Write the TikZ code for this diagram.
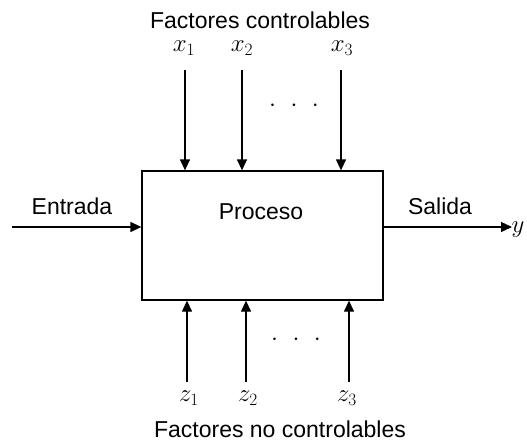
\documentclass[tikz,border=0pt]{standalone}
\usepackage{fontspec}
\setmainfont{Liberation Sans}
\usetikzlibrary{arrows.meta}
\begin{document}
\begin{tikzpicture}[x=1pt,y=-1pt,
  font=\fontsize{23}{27}\selectfont,
  line width=1.3pt,
  arr/.style={-{Triangle[length=11pt,width=10pt]}},
  mathlbl/.style={inner sep=0pt, font=\fontsize{27}{31}\selectfont},
  dots/.style={inner sep=0pt, font=\fontsize{27}{31}\selectfont}]
\useasboundingbox (0,0) rectangle (527,442);
\node[draw, minimum width=241pt, minimum height=129pt, inner sep=0pt] (proc) at (262.5,235.5) {};
\node (proctext) at (261,212) {Proceso};
% top
\node (ttitle) at (260,20) {Factores controlables};
\node[mathlbl] (x1) at (184,48) {$x_1$};
\node[mathlbl] (x2) at (242,48) {$x_2$};
\node[mathlbl] (x3) at (342,48) {$x_3$};
\coordinate (t1) at (185,70);
\coordinate (t2) at (242,70);
\coordinate (t3) at (341,70);
\draw[arr] (t1) -- (t1 |- proc.north);
\draw[arr] (t2) -- (t2 |- proc.north);
\draw[arr] (t3) -- (t3 |- proc.north);
\node[dots] (tdots) at (294,106) {$\cdot\hspace{9pt}\cdot\hspace{9pt}\cdot$};
% bottom
\coordinate (b1) at (187,382);
\coordinate (b2) at (246,382);
\coordinate (b3) at (349,382);
\draw[arr] (b1) -- (b1 |- proc.south);
\draw[arr] (b2) -- (b2 |- proc.south);
\draw[arr] (b3) -- (b3 |- proc.south);
\node[mathlbl] (z1) at (189,398) {$z_1$};
\node[mathlbl] (z2) at (248,398) {$z_2$};
\node[mathlbl] (z3) at (347,398) {$z_3$};
\node[dots] (bdots) at (296,340) {$\cdot\hspace{9pt}\cdot\hspace{9pt}\cdot$};
\node (btitle) at (280,429) {Factores no controlables};
% left / right
\coordinate (in) at (12,227);
\draw[arr] (in) -- (in -| proc.west);
\node (entrada) at (72,206) {Entrada};
\coordinate (outc) at (512,227);
\draw[arr] (outc -| proc.east) -- (outc);
\node[mathlbl, anchor=west] (y) at (511,230) {$y$};
\node (salida) at (440,206) {Salida};
\end{tikzpicture}
\end{document}
